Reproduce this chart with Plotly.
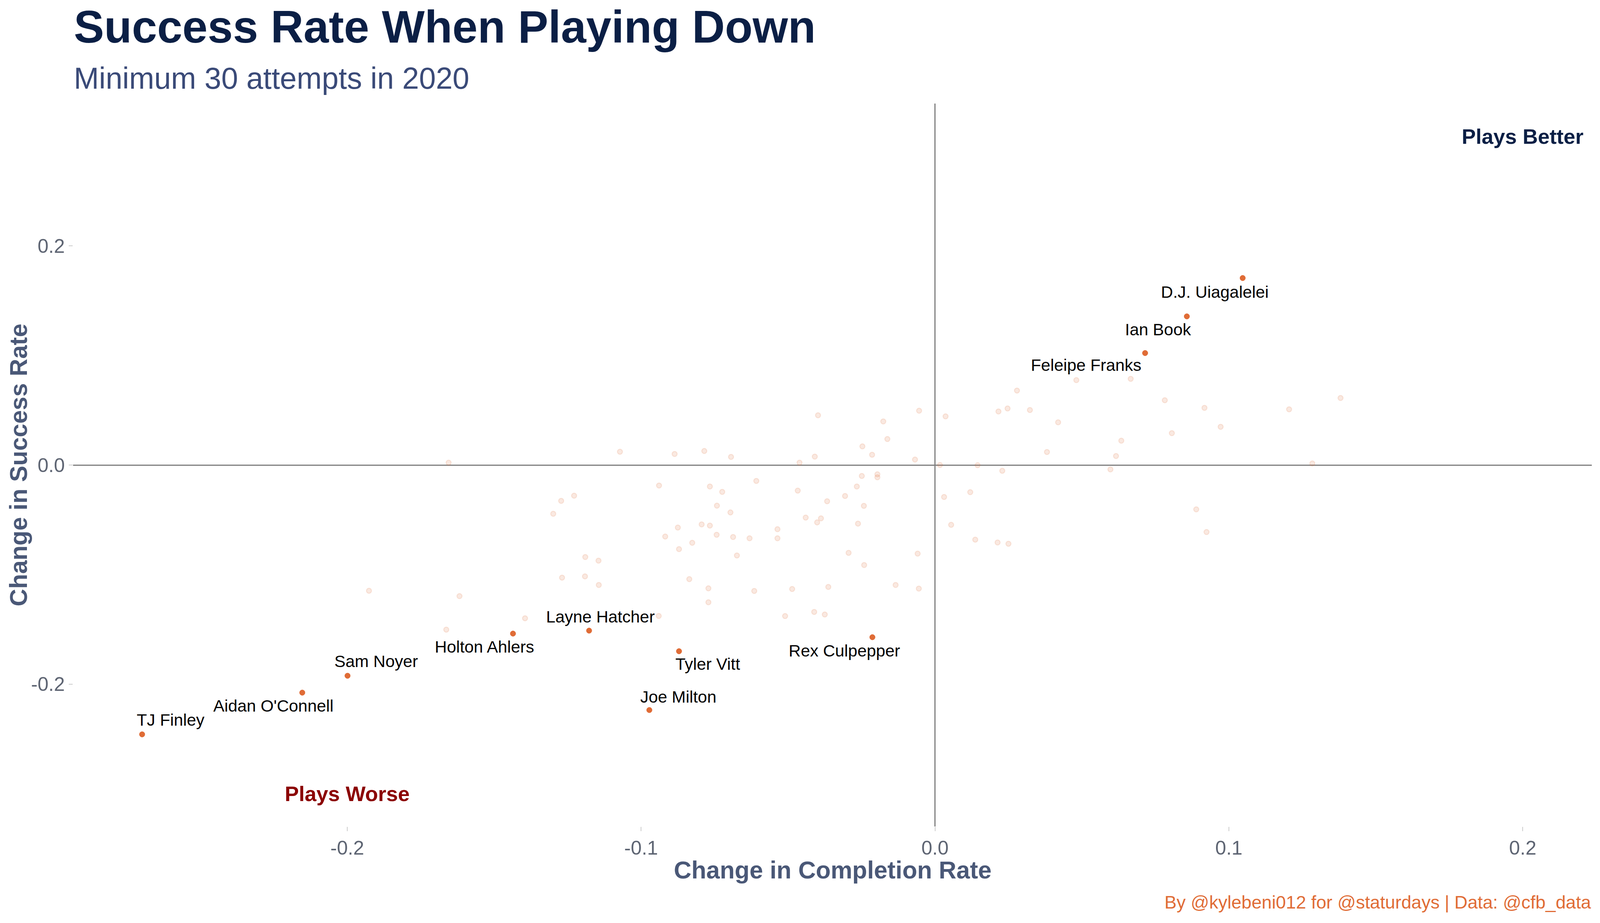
import plotly.graph_objects as go

# ---------------- data ----------------
names = ["D.J. Uiagalelei", "Ian Book", "Feleipe Franks", "Layne Hatcher", "Holton Ahlers",
         "Rex Culpepper", "Tyler Vitt", "Joe Milton", "TJ Finley", "Aidan O'Connell", "Sam Noyer"]
hi_x = [0.1047, 0.0857, 0.0715, -0.1177, -0.1436, -0.0213, -0.0871, -0.0972, -0.2698, -0.2153, -0.1999]
hi_y = [0.1707, 0.1357, 0.1022, -0.1512, -0.1539, -0.1572, -0.1700, -0.2237, -0.2459, -0.2078, -0.1924]

other_x = [0.0481, 0.0666, 0.0279, -0.0054, 0.0036, 0.0216, 0.0247, 0.0323, 0.0782, 0.0917, 0.1205, 0.1380,
           0.0419, 0.0972, 0.0806, 0.0634, 0.0381, 0.0616, -0.0068, 0.0017, 0.0145, 0.1284, 0.0229, 0.0597,
           0.0120, 0.0031, 0.0889, 0.0055, 0.0924, 0.0137, 0.0213, 0.0250,
           -0.0398, -0.0176, -0.0162, -0.0247, -0.0214, -0.0409, -0.0461, -0.1072, -0.0886, -0.0785, -0.0694, -0.1655,
           -0.0249, -0.0196, -0.0196, -0.0608, -0.0939, -0.0766, -0.0724, -0.0467, -0.0266, -0.1228, -0.1272, -0.1299,
           -0.0742, -0.0696, -0.0367, -0.0306, -0.0242, -0.0440, -0.0388, -0.0401, -0.0262, -0.0794, -0.0766, -0.0875,
           -0.0536, -0.0918, -0.0743, -0.0687, -0.0631, -0.0536, -0.0826, -0.0871, -0.0674, -0.0294, -0.0059, -0.0241,
           -0.1190, -0.1145, -0.1269, -0.1191, -0.1144, -0.0836, -0.0771, -0.0771, -0.0615, -0.0486, -0.0363, -0.0134,
           -0.0055, -0.1618, -0.1395, -0.1663, -0.0940, -0.0510, -0.0411, -0.0375, -0.1926]
other_y = [0.0775, 0.0787, 0.0680, 0.0496, 0.0444, 0.0489, 0.0516, 0.0502, 0.0591, 0.0522, 0.0508, 0.0612,
           0.0390, 0.0349, 0.0291, 0.0222, 0.0119, 0.0082, 0.0050, 0.0000, -0.0002, 0.0014, -0.0053, -0.0040,
           -0.0248, -0.0292, -0.0405, -0.0546, -0.0612, -0.0681, -0.0707, -0.0719,
           0.0454, 0.0398, 0.0237, 0.0170, 0.0094, 0.0077, 0.0021, 0.0121, 0.0101, 0.0128, 0.0074, 0.0021,
           -0.0100, -0.0085, -0.0112, -0.0145, -0.0187, -0.0196, -0.0245, -0.0234, -0.0196, -0.0280, -0.0327, -0.0445,
           -0.0371, -0.0433, -0.0331, -0.0283, -0.0373, -0.0480, -0.0487, -0.0524, -0.0535, -0.0542, -0.0553, -0.0571,
           -0.0586, -0.0653, -0.0637, -0.0657, -0.0669, -0.0669, -0.0710, -0.0768, -0.0826, -0.0802, -0.0809, -0.0913,
           -0.0840, -0.0873, -0.1028, -0.1017, -0.1095, -0.1042, -0.1126, -0.1253, -0.1150, -0.1132, -0.1113, -0.1095,
           -0.1128, -0.1197, -0.1399, -0.1503, -0.1378, -0.1379, -0.1341, -0.1365, -0.1148]

quad_text = ["Plays Better", "Plays Worse"]
quad_x = [0.2, -0.2]
quad_y = [0.3, -0.3]

x_ticks = [-0.2, -0.1, 0.0, 0.1, 0.2]
x_tick_labels = ["-0.2", "-0.1", "0.0", "0.1", "0.2"]
y_ticks = [-0.2, 0.0, 0.2]
y_tick_labels = ["-0.2", "0.0", "0.2"]

# ---------------- styles ----------------
W, H = 4096, 2362          # page area that is captured
SX = W / 4724              # horizontal scale vs. the reference
FS = 0.93                  # font / marker scale
FONT = "Liberation Sans, Arial, sans-serif"
ORANGE = "#E06C36"
FADED = "rgba(224,108,54,0.15)"
NAVY = "#0B1F45"
# label offsets in reference pixels (dx right, dy up)
label_shift = {
    "D.J. Uiagalelei": (-82, -35), "Ian Book": (-85, -33), "Feleipe Franks": (-174, -30),
    "Layne Hatcher": (33, 36), "Holton Ahlers": (-84, -34), "Rex Culpepper": (-83, -34),
    "Tyler Vitt": (85, -32), "Joe Milton": (85, 34), "TJ Finley": (84, 37),
    "Aidan O'Connell": (-85, -34), "Sam Noyer": (84, 37),
}
quad_colors = [NAVY, "#8B0000"]

fig = go.Figure()
fig.add_trace(go.Scatter(x=other_x, y=other_y, mode="markers", hoverinfo="skip",
                         marker=dict(size=14 * FS, color=FADED, line=dict(color=FADED, width=2.5))))
fig.add_trace(go.Scatter(x=hi_x, y=hi_y, mode="markers", hoverinfo="skip",
                         marker=dict(size=15 * FS, color=ORANGE, line=dict(color=ORANGE, width=1))))

annotations = []
for n, x, y in zip(names, hi_x, hi_y):
    dx, dy = label_shift[n]
    annotations.append(dict(x=x, y=y, xref="x", yref="y", text=n, showarrow=False,
                            xshift=dx * SX, yshift=dy, xanchor="center", yanchor="middle",
                            font=dict(family=FONT, size=46 * FS, color="black")))
for t, x, y, c in zip(quad_text, quad_x, quad_y, quad_colors):
    annotations.append(dict(x=x, y=y, xref="x", yref="y", text=f"<b>{t}</b>", showarrow=False,
                            xanchor="center", yanchor="middle",
                            font=dict(family=FONT, size=58 * FS, color=c)))

# titles and captions
annotations += [
    dict(x=0, y=1.1059, xref="paper", yref="paper", text="<b>Success Rate When Playing Down</b>",
         showarrow=False, xanchor="left", yanchor="middle", font=dict(family=FONT, size=125 * FS, color=NAVY)),
    dict(x=0, y=1.0351, xref="paper", yref="paper", text="Minimum 30 attempts in 2020",
         showarrow=False, xanchor="left", yanchor="middle", font=dict(family=FONT, size=83 * FS, color="#3A4A78")),
    dict(x=0.5, y=-0.0603, xref="paper", yref="paper", text="<b>Change in Completion Rate</b>",
         showarrow=False, xanchor="center", yanchor="middle", font=dict(family=FONT, size=67 * FS, color="#4A5877")),
    dict(x=-0.0361, y=0.5, xref="paper", yref="paper", text="<b>Change in Success Rate</b>", textangle=-90,
         showarrow=False, xanchor="center", yanchor="middle", font=dict(family=FONT, size=67 * FS, color="#4A5877")),
    dict(x=1, y=-0.1051, xref="paper", yref="paper", text="By @kylebeni012 for @staturdays | Data: @cfb_data",
         showarrow=False, xanchor="right", yanchor="middle", font=dict(family=FONT, size=50 * FS, color=ORANGE)),
]

axis_common = dict(showgrid=False, zeroline=True, zerolinecolor="#7F7F7F", zerolinewidth=2.5,
                   showline=False, ticks="outside", tickwidth=2, tickcolor="#CCCCCC",
                   tickfont=dict(family=FONT, size=54 * FS, color="#5E6573"))

fig.update_layout(
    width=W, height=H,
    margin=dict(l=216 * SX, r=24 * SX, t=265, b=247),
    paper_bgcolor="white", plot_bgcolor="white",
    showlegend=False,
    xaxis=dict(range=[-0.2933, 0.2235], tickvals=x_ticks, ticktext=x_tick_labels, ticklen=11, **axis_common),
    yaxis=dict(range=[-0.33, 0.33], tickvals=y_ticks, ticktext=y_tick_labels, ticklen=10, **axis_common),
    annotations=annotations,
)

fig.write_html("out.html", config={"displayModeBar": False},
               post_script="document.body.style.margin='0px';")
